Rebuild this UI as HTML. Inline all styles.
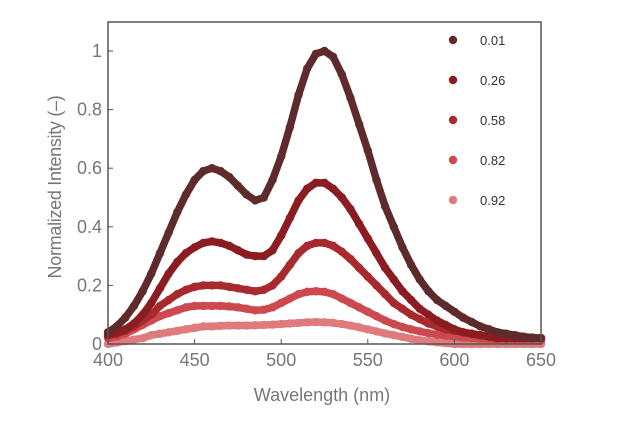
<!DOCTYPE html>
<html><head><meta charset="utf-8"><style>
body{margin:0;background:#fff;}
svg{display:block;font-family:"Liberation Sans",sans-serif;}
</style></head><body>
<svg id="chart" width="620" height="432"></svg>
<script>
const wavelengths=[];for(let w=400;w<=650;w+=5)wavelengths.push(w);
const seriesLabels=["0.01","0.26","0.58","0.82","0.92"];
const seriesColors=["#5e2a2c","#8b1c22","#a8292e","#cc4a4f","#df7b7d"];
const s001=[0.04,0.06,0.09,0.13,0.18,0.24,0.31,0.38,0.45,0.51,0.56,0.59,0.60,0.59,0.57,0.54,0.51,0.49,0.50,0.56,0.64,0.74,0.85,0.94,0.99,1.00,0.98,0.92,0.84,0.75,0.66,0.56,0.47,0.40,0.33,0.27,0.22,0.18,0.15,0.13,0.11,0.09,0.075,0.06,0.05,0.04,0.035,0.03,0.025,0.022,0.02];
const s026=[0.03,0.04,0.05,0.07,0.10,0.14,0.19,0.24,0.28,0.31,0.33,0.345,0.35,0.345,0.335,0.32,0.305,0.30,0.30,0.32,0.37,0.43,0.49,0.53,0.55,0.55,0.53,0.50,0.46,0.41,0.36,0.31,0.26,0.22,0.18,0.15,0.12,0.10,0.08,0.065,0.05,0.04,0.035,0.03,0.025,0.02,0.02,0.02,0.02,0.02,0.02];
const s058=[0.03,0.035,0.045,0.06,0.08,0.10,0.13,0.15,0.17,0.185,0.195,0.20,0.20,0.20,0.195,0.19,0.185,0.18,0.185,0.20,0.23,0.27,0.31,0.335,0.345,0.345,0.335,0.315,0.29,0.26,0.23,0.20,0.17,0.14,0.12,0.10,0.085,0.07,0.06,0.05,0.045,0.04,0.035,0.03,0.025,0.02,0.02,0.02,0.02,0.02,0.02];
const s082=[0.02,0.025,0.035,0.05,0.065,0.08,0.095,0.105,0.115,0.125,0.13,0.13,0.13,0.13,0.128,0.125,0.12,0.115,0.117,0.125,0.14,0.155,0.17,0.178,0.18,0.178,0.17,0.155,0.14,0.125,0.11,0.095,0.08,0.068,0.058,0.05,0.043,0.037,0.032,0.028,0.025,0.022,0.02,0.018,0.016,0.015,0.014,0.013,0.012,0.012,0.012];
const s092=[0.0,0.005,0.01,0.015,0.02,0.03,0.035,0.04,0.045,0.05,0.055,0.06,0.06,0.062,0.063,0.063,0.063,0.064,0.065,0.066,0.068,0.07,0.072,0.074,0.075,0.074,0.072,0.068,0.063,0.057,0.05,0.043,0.036,0.03,0.024,0.018,0.013,0.009,0.006,0.003,0.0,0.0,0.0,0.0,0.0,0.0,0.0,0.0,0.0,0.0,0.0];
const allSeries=[s001,s026,s058,s082,s092];
const xTicks=[400,450,500,550,600,650];
const yTicks=[0,0.2,0.4,0.6,0.8,1];
const yTickLabels=["0","0.2","0.4","0.6","0.8","1"];

const NS="http://www.w3.org/2000/svg";
const svg=document.getElementById("chart");
const L=108,R=541,T=22,B=344;
const xS=v=>L+(v-400)/250*(R-L);
const yS=v=>B-v*293;
function mk(tag,attrs,parent){const e=document.createElementNS(NS,tag);for(const k in attrs)e.setAttribute(k,attrs[k]);(parent||svg).appendChild(e);return e;}

for(let i=allSeries.length-1;i>=0;i--){
  const g=mk("g",{});
  
  
  const pts=allSeries[i].map((v,j)=>xS(wavelengths[j])+","+yS(v)).join(" ");
  const pl=mk("polyline",{points:pts,fill:"none",stroke:seriesColors[i],"stroke-width":7.5,"stroke-linejoin":"round","stroke-linecap":"round"},g);
  
  
  allSeries[i].forEach((v,j)=>{
    const c=mk("circle",{cx:xS(wavelengths[j]),cy:yS(v),r:4.2,fill:seriesColors[i]},g);
    
    
  });
}
const frame=mk("rect",{x:L,y:T,width:R-L,height:B-T,fill:"none",stroke:"#555","stroke-width":1.5});


xTicks.forEach(t=>{
  const ln=mk("line",{x1:xS(t),x2:xS(t),y1:B,y2:B-5,stroke:"#555"});
  
  
  const tx=mk("text",{x:xS(t),y:B+22,"text-anchor":"middle","font-size":18,fill:"#777"});
  tx.textContent=t;
  
  
});
yTicks.forEach((t,i)=>{
  const ln=mk("line",{x1:L,x2:L+5,y1:yS(t),y2:yS(t),stroke:"#555"});
  
  
  const tx=mk("text",{x:L-6,y:yS(t)+6,"text-anchor":"end","font-size":18,fill:"#777"});
  tx.textContent=yTickLabels[i];
  
  
});
const xl=mk("text",{x:322,y:401,"text-anchor":"middle","font-size":18,fill:"#777"});
xl.textContent="Wavelength (nm)";


const yl=mk("text",{x:0,y:0,"text-anchor":"middle","font-size":18,fill:"#777",transform:"translate(61,187) rotate(-90)","letter-spacing":"-0.3"});
yl.textContent="Normalized Intensity (–)";


seriesLabels.forEach((lab,i)=>{
  const y=40+i*40;
  const g=mk("g",{});
  
  
  mk("circle",{cx:453,cy:y,r:4.2,fill:seriesColors[i]},g);
  const tx=mk("text",{x:480,y:y+5,"font-size":13,fill:"#333"},g);
  tx.textContent=lab;
});
</script>
</body></html>
